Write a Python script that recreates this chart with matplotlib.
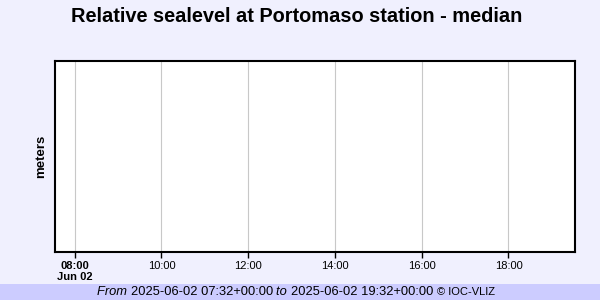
import matplotlib
matplotlib.use("Agg")
import matplotlib.pyplot as plt
import datetime as dt

title = "Relative sealevel at Portomaso station - median"
ylabel = "meters"
start = dt.datetime(2025, 6, 2, 7, 32)
end = dt.datetime(2025, 6, 2, 19, 32)
tick_hours = [8, 10, 12, 14, 16, 18]
tick_labels = ["08:00\nJun 02", "10:00", "12:00", "14:00", "16:00", "18:00"]
footer_parts = [("From ", "italic", 9.3), ("2025-06-02 07:32+00:00 ", "normal", 9.3),
                ("to ", "italic", 9.3), ("2025-06-02 19:32+00:00 ", "normal", 9.3),
                ("© IOC-VLIZ", "normal", 8.0)]

plt.rcParams['font.family'] = ['Liberation Sans', 'DejaVu Sans']
bg = "#f0f0fe"
fig = plt.figure(figsize=(6, 3), dpi=100, facecolor=bg)

# footer band
fig.patches.append(plt.Rectangle((0, 0), 1, 16/300, transform=fig.transFigure,
                                 facecolor="#ccccff", edgecolor="none", zorder=0))

ax = fig.add_axes([54.5/600, 48/300, 520.5/600, 191/300])
ax.set_facecolor("white")
ax.set_xlim(start, end)
ax.set_ylim(0, 1)
ticks = [dt.datetime(2025, 6, 2, h) for h in tick_hours]
ax.set_xticks(ticks)
ax.set_xticklabels(tick_labels, fontsize=8)
ax.get_xticklabels()[0].set_fontweight("bold")
ax.get_xticklabels()[0].set_linespacing(1.1)
ax.tick_params(axis='x', length=4, width=1, pad=2.5, color="black")
ax.set_yticks([])
ax.grid(axis='x', color="#c8c8c8", linewidth=0.8)
for s in ax.spines.values():
    s.set_linewidth(1.5)
    s.set_color("black")
ax.set_ylabel(ylabel, fontsize=9.5, fontweight="bold", labelpad=5)

fig.text(297/600, 1 - 16/300, title, ha="center", va="center", fontsize=14.4, fontweight="bold")

fig.canvas.draw()
r = fig.canvas.get_renderer()
x = 97
for txt, style, sz in footer_parts:
    t = fig.text(x/600, 8/300, txt, ha="left", va="center", fontsize=sz, style=style)
    bb = t.get_window_extent(renderer=r)
    x += bb.width

fig.savefig("out.png", dpi=100, facecolor=bg)
